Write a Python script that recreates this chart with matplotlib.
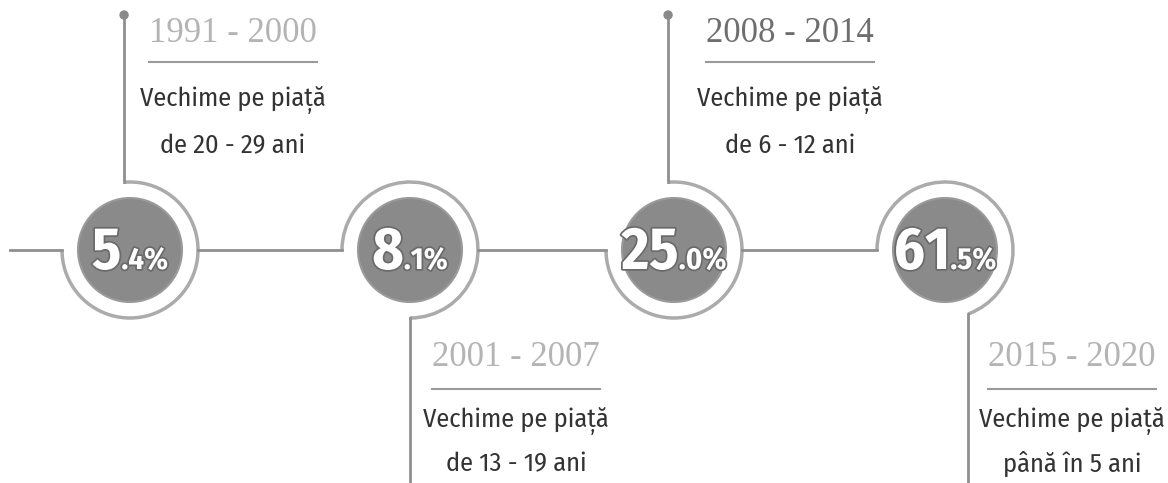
import matplotlib.pyplot as plt
from matplotlib.patches import Circle, Arc
import matplotlib.patheffects as pe
import numpy as np

# data
periods = ['1991 - 2000', '2001 - 2007', '2008 - 2014', '2015 - 2020']
shares = [5.4, 8.1, 25.0, 61.5]
line1 = ['Vechime pe piață'] * 4
line2 = ['de 20 - 29 ani', 'de 13 - 19 ani', 'de 6 - 12 ani', 'până în 5 ani']
year_colors = ['#b4b4b4', '#b4b4b4', '#6e6e6e', '#b4b4b4']

# layout (pixel coords, y down)
W, H = 1168, 483
cx = [130, 410, 674, 945]
cy = 250
r_in, r_out = 52, 68
label_x = [233, 516, 790, 1072]
label_top = [True, False, True, False]

sans = ['Fira Sans Condensed', 'Roboto Condensed', 'Liberation Sans Narrow', 'DejaVu Sans']
serif = ['Liberation Serif', 'DejaVu Serif']
ring_col = '#ababab'
line_col = '#8f8f8f'

fig = plt.figure(figsize=(W / 100, H / 100), dpi=100)
ax = fig.add_axes([0, 0, 1, 1])
ax.set_xlim(0, W)
ax.set_ylim(H, 0)
ax.axis('off')

def pt(i, deg):
    t = np.radians(deg)
    return cx[i] + r_out * np.cos(t), cy + r_out * np.sin(t)

# main horizontal line pieces
ax.plot([10, cx[0] - r_out], [cy, cy], color=line_col, lw=2)
for i in range(3):
    ax.plot([cx[i] + r_out, cx[i + 1] - r_out], [cy, cy], color=line_col, lw=2)

for i in range(4):
    if label_top[i]:
        t1, t2 = -95, 180
        x0, y0 = pt(i, t1)
        ax.plot([x0, x0], [y0, 15], color=line_col, lw=2)
        ax.add_patch(Circle((x0, 15), 4, color='#8a8a8a', zorder=3))
    else:
        t1 = 180
        t2 = 450 if i == 1 else 430
        x0, y0 = pt(i, t2)
        ax.plot([x0, x0], [y0, H], color=line_col, lw=2)
    ax.add_patch(Arc((cx[i], cy), 2 * r_out, 2 * r_out, theta1=t1, theta2=t2,
                     color=ring_col, lw=2.5))
    ax.add_patch(Circle((cx[i], cy), r_in, facecolor='#8a8a8a', edgecolor='#9a9a9a', lw=1.5))

fig.canvas.draw()
rend = fig.canvas.get_renderer()
stroke = [pe.withStroke(linewidth=2.5, foreground='#6a6a6a')]

for i, v in enumerate(shares):
    big, dec = f'{v:.1f}'.split('.')
    small = '.' + dec + '%'
    base = cy + 19
    tb = ax.text(0, base, big, fontsize=43, fontweight='bold', family=sans,
                 color='white', ha='left', va='baseline', path_effects=stroke)
    ts = ax.text(0, base, small, fontsize=22, fontweight='bold', family=sans,
                 color='white', ha='left', va='baseline', path_effects=stroke)
    wb = tb.get_window_extent(rend).width
    ws = ts.get_window_extent(rend).width
    left = cx[i] - (wb + ws) / 2
    tb.set_x(left)
    ts.set_x(left + wb)

    lx = label_x[i]
    if label_top[i]:
        ys = [33, 62, 100, 146]
    else:
        ys = [357, 389, 421, 464]
    ax.text(lx, ys[0], periods[i], fontsize=25, family=serif, color=year_colors[i],
            ha='center', va='center')
    ax.plot([lx - 84, lx + 84], [ys[1], ys[1]], color='#9a9a9a', lw=1.5)
    ax.text(lx, ys[2], line1[i], fontsize=19, family=sans, color='#333333',
            ha='center', va='center')
    ax.text(lx, ys[3], line2[i], fontsize=19, family=sans, color='#333333',
            ha='center', va='center')

fig.savefig('out.png', dpi=100)
